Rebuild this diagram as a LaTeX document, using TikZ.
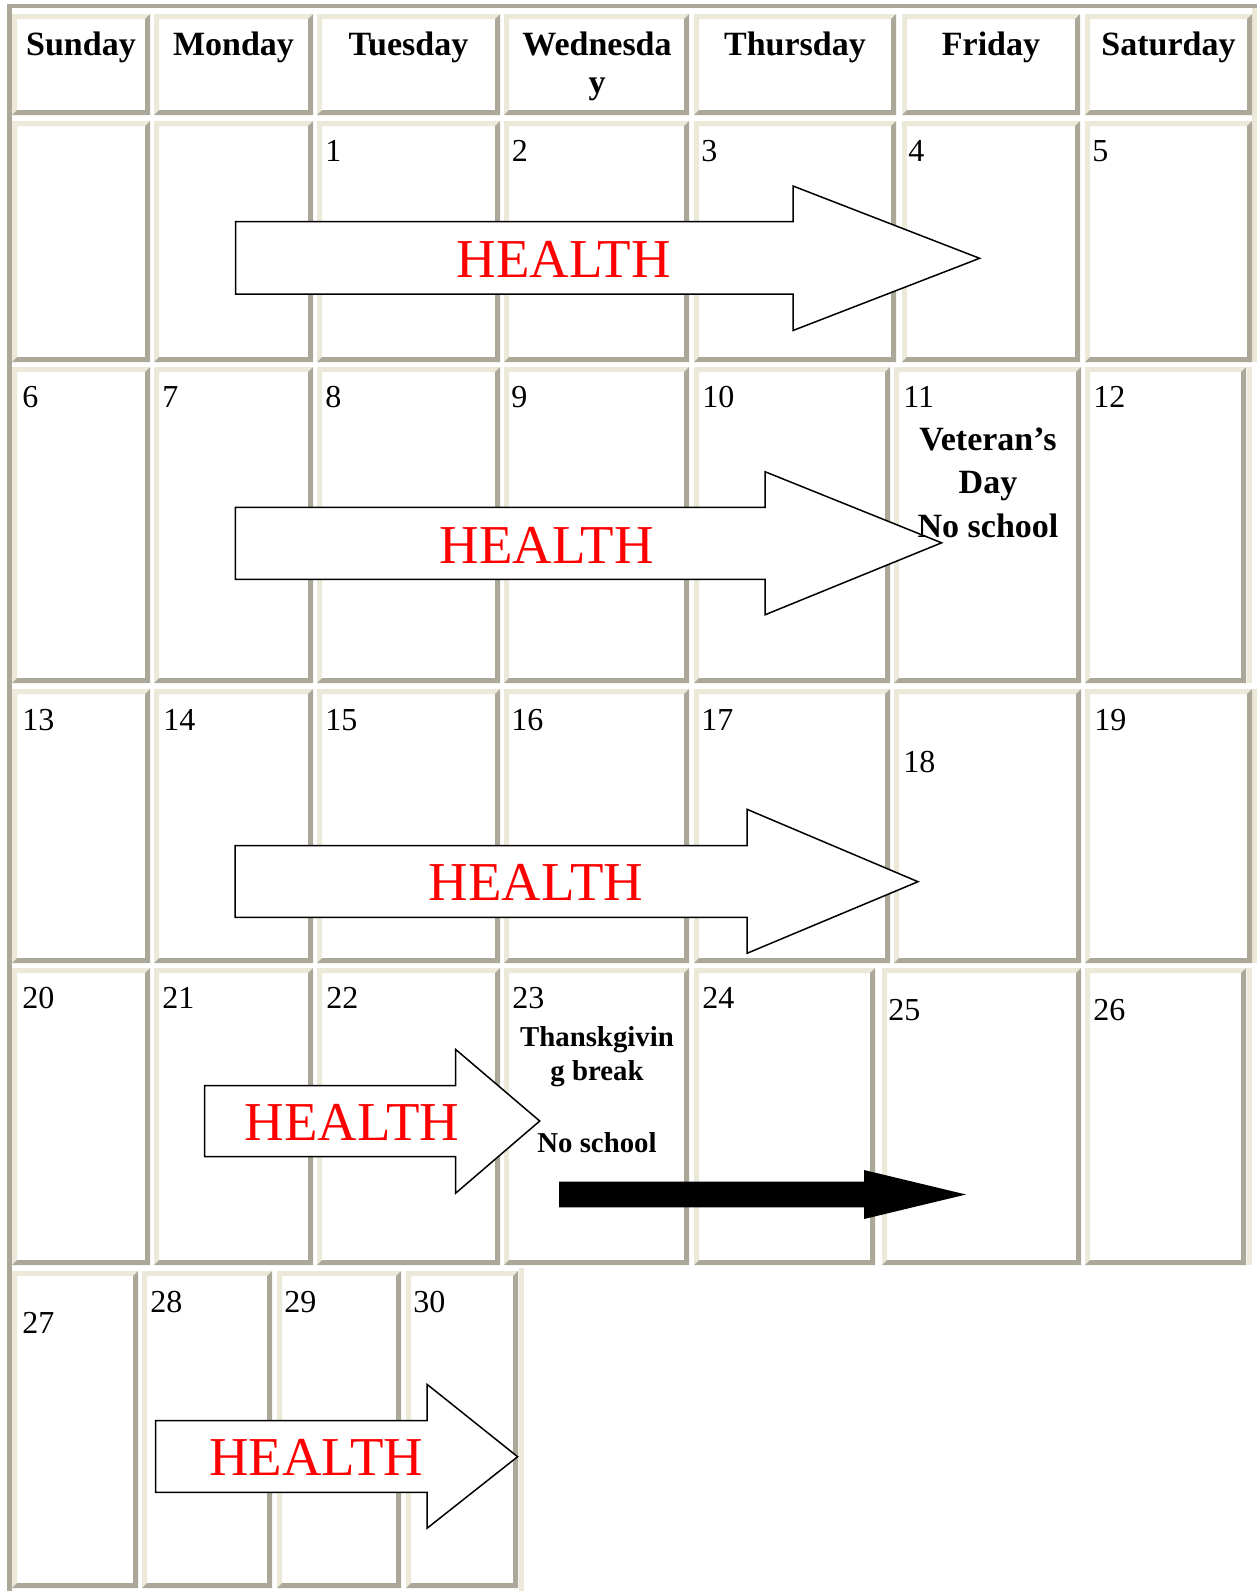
\documentclass[tikz,border=0pt]{standalone}
\usepackage{fontspec}
\setmainfont{Liberation Serif}
\definecolor{lite}{HTML}{ECE9D8}
\definecolor{dark}{HTML}{ACA899}
\newcommand\calcell[4]{%
  \fill[lite] (#1,#2) -- (#3,#2) -- (#3-5,#2+5) -- (#1+5,#2+5) -- (#1+5,#4-5) -- (#1,#4) -- cycle;
  \fill[dark] (#3,#2) -- (#3,#4) -- (#1,#4) -- (#1+5,#4-5) -- (#3-5,#4-5) -- (#3-5,#2+5) -- cycle;
}
\tikzset{
  daynum/.style={font=\fontsize{16}{19}\selectfont, inner sep=0pt, anchor=base west},
  dayname/.style={font=\bfseries\fontsize{17}{20}\selectfont, inner sep=0pt, anchor=base},
  healthtext/.style={font=\fontsize{27.4}{31}\selectfont, text=red, inner sep=0pt, anchor=base},
  notetext/.style={font=\bfseries\fontsize{17}{20}\selectfont, inner sep=0pt, anchor=base},
  smallnote/.style={font=\bfseries\fontsize{14.4}{17}\selectfont, inner sep=0pt, anchor=base},
  blockarrow/.style={draw=black, fill=white, line width=0.75pt, line join=miter},
  solidarrow/.style={fill=black}
}
\begin{document}
\begin{tikzpicture}[x=0.5pt,y=-0.5pt]
\useasboundingbox (0,0) rectangle (1257,1591);
\fill[white] (0,0) rectangle (1257,1591);
% outer border
\fill[dark] (7,4) rectangle (1257,8);
\fill[dark] (7,4) rectangle (12,1591);
\fill[lite] (1252,8) rectangle (1257,362);
\fill[lite] (1247,367) rectangle (1252,683);
\fill[lite] (1252,689) rectangle (1257,963);
\fill[lite] (1247,968) rectangle (1252,1265);
\fill[lite] (519,1268) rectangle (524,1591);
% header and row 1
\foreach \a/\b in {12/150,154/313,317/500,504/689,694/896,902/1080,1085/1252} {
  \calcell{\a}{14}{\b}{115}
  \calcell{\a}{121}{\b}{362}
}
% row 2
\foreach \a/\b in {12/150,154/313,317/500,504/689,694/890,894/1081,1085/1246}
  \calcell{\a}{367}{\b}{683};
% row 3
\foreach \a/\b in {12/150,154/313,317/500,504/689,694/890,894/1081,1085/1252}
  \calcell{\a}{689}{\b}{963};
% row 4
\foreach \a/\b in {12/150,154/313,317/500,504/689,694/875,882/1081,1085/1246}
  \calcell{\a}{968}{\b}{1265};
% row 5
\foreach \a/\b in {12/138,142/272,277/401,406/518}
  \calcell{\a}{1271}{\b}{1588};

% header texts
\node[dayname] (hsun) at (81,55) {Sunday};
\node[dayname] (hmon) at (233.5,55) {Monday};
\node[dayname] (htue) at (408.5,55) {Tuesday};
\node[dayname] (hwed) at (597,55) {Wednesda};
\node[dayname] (hwed2) at (597,93) {y};
\node[dayname] (hthu) at (795,55) {Thursday};
\node[dayname] (hfri) at (991,55) {Friday};
\node[dayname] (hsat) at (1168.5,55) {Saturday};

% arrows
\draw[blockarrow] (235.7,221.7) -- (793,221.7) -- (793,186) -- (979.6,258.3) -- (793,330.5) -- (793,294) -- (235.7,294) -- cycle;
\draw[blockarrow] (235.4,507.3) -- (765,507.3) -- (765,471.7) -- (941.6,542.8) -- (765,614.8) -- (765,579.3) -- (235.4,579.3) -- cycle;
\draw[blockarrow] (235,845.7) -- (747,845.7) -- (747,809.3) -- (918,881.7) -- (747,953.3) -- (747,917.3) -- (235,917.3) -- cycle;
\draw[blockarrow] (204.5,1085.7) -- (455.5,1085.7) -- (455.5,1049.3) -- (539.7,1121) -- (455.5,1193.3) -- (455.5,1156.7) -- (204.5,1156.7) -- cycle;
\draw[blockarrow] (155.6,1420.7) -- (427,1420.7) -- (427,1384.3) -- (517.6,1456.7) -- (427,1528.3) -- (427,1492.3) -- (155.6,1492.3) -- cycle;
\fill[solidarrow] (559,1181.7) -- (864,1181.7) -- (864,1170) -- (966,1194.5) -- (864,1219) -- (864,1207.3) -- (559,1207.3) -- cycle;

\node[healthtext] (h1) at (563.5,277.7) {HEALTH};
\node[healthtext] (h2) at (546.7,563) {HEALTH};
\node[healthtext] (h3) at (536,900) {HEALTH};
\node[healthtext] (h4) at (352,1140.7) {HEALTH};
\node[healthtext] (h5) at (316.3,1475.7) {HEALTH};

% day numbers
\node[daynum] (d1) at (325,161.7) {1};
\node[daynum] (d2) at (511.5,161.7) {2};
\node[daynum] (d3) at (701,161.7) {3};
\node[daynum] (d4) at (908,161.7) {4};
\node[daynum] (d5) at (1092,161.7) {5};
\node[daynum] (d6) at (22,407) {6};
\node[daynum] (d7) at (162,407) {7};
\node[daynum] (d8) at (325,407) {8};
\node[daynum] (d9) at (511,407) {9};
\node[daynum] (d10) at (702,407) {10};
\node[daynum] (d11) at (903,407) {11};
\node[daynum] (d12) at (1093,407) {12};
\node[daynum] (d13) at (22,730) {13};
\node[daynum] (d14) at (163,730) {14};
\node[daynum] (d15) at (325,730) {15};
\node[daynum] (d16) at (511,730) {16};
\node[daynum] (d17) at (701,730) {17};
\node[daynum] (d18) at (903,772.7) {18};
\node[daynum] (d19) at (1094,730) {19};
\node[daynum] (d20) at (22,1008) {20};
\node[daynum] (d21) at (162,1008) {21};
\node[daynum] (d22) at (326,1008) {22};
\node[daynum] (d23) at (512,1008) {23};
\node[daynum] (d24) at (702,1008) {24};
\node[daynum] (d25) at (888,1020) {25};
\node[daynum] (d26) at (1093,1020) {26};
\node[daynum] (d27) at (22,1333) {27};
\node[daynum] (d28) at (150,1312) {28};
\node[daynum] (d29) at (284,1312) {29};
\node[daynum] (d30) at (413,1312) {30};

% notes
\node[notetext] (vet1) at (988,450) {Veteran’s};
\node[notetext] (vet2) at (988,493) {Day};
\node[notetext] (vet3) at (988,537) {No school};
\node[smallnote] (tg1) at (597,1046) {Thanskgivin};
\node[smallnote] (tg2) at (597,1080) {g break};
\node[smallnote] (tg3) at (597,1152) {No school};
\end{tikzpicture}
\end{document}
